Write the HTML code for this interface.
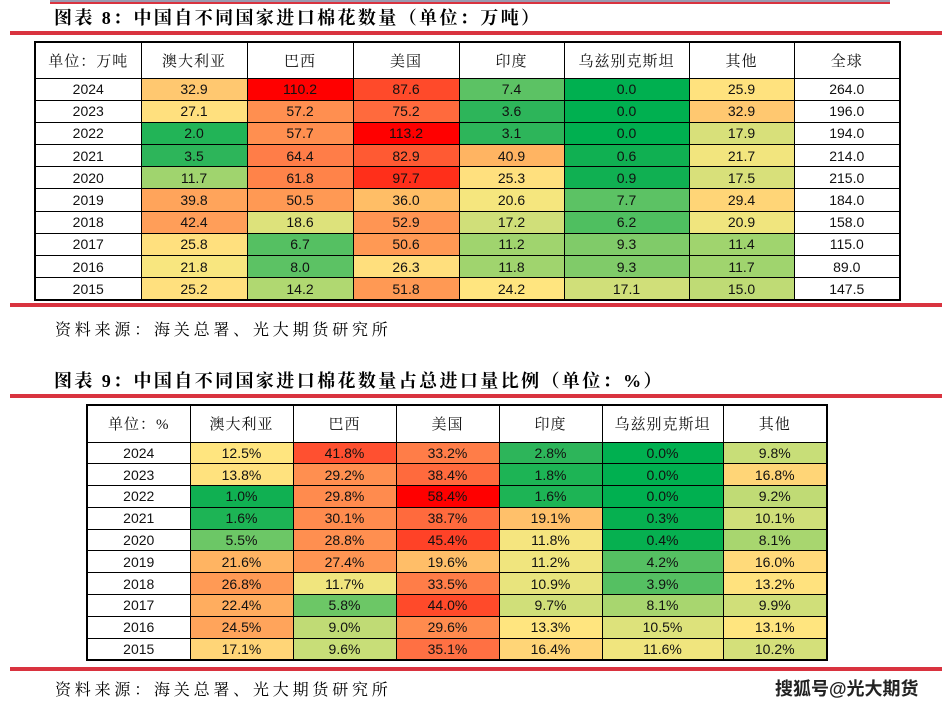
<!DOCTYPE html>
<html><head><meta charset="utf-8"><style>
body{margin:0;width:944px;height:705px;background:#fff;position:relative;overflow:hidden;font-family:"Liberation Sans","Noto Sans CJK SC",sans-serif;}
.abs{position:absolute;}
.title{font-family:"Liberation Serif","Noto Serif CJK SC",serif;font-weight:bold;font-size:18px;color:#000;letter-spacing:2.4px;white-space:nowrap;}
.src{font-family:"Liberation Serif","Noto Serif CJK SC",serif;font-size:16px;color:#000;letter-spacing:3.8px;white-space:nowrap;}
.red{height:4px;background:#D9333F;}
table{border-collapse:collapse;table-layout:fixed;position:absolute;border:2px solid #000;}
td{border:1px solid #000;text-align:center;font-size:14px;padding:0;color:#111;white-space:nowrap;}
tr.h td{font-family:"Liberation Serif","Noto Serif CJK SC",serif;font-size:15px;letter-spacing:1px;background:#fff;}
#t1 tr.h{height:36px}#t1 tr{height:22.2px}
#t2 tr.h{height:37px}#t2 tr{height:21.8px}
</style></head><body>
<div class="abs" style="left:50px;top:0;width:840px;height:2px;background:#9A9AB0"></div>
<div class="abs" style="left:50px;top:2px;width:840px;height:2px;background:#D9333F"></div>
<div class="abs title" style="left:54px;top:4px">图表 8：中国自不同国家进口棉花数量（单位：万吨）</div>
<div class="abs red" style="left:10px;top:31px;width:932px"></div>
<table id="t1" style="left:34px;top:41px;width:865px">
<colgroup><col style="width:106px"><col style="width:106px"><col style="width:106px"><col style="width:106px"><col style="width:105px"><col style="width:125px"><col style="width:105px"><col style="width:106px"></colgroup>
<tr class="h"><td>单位：万吨</td><td>澳大利亚</td><td>巴西</td><td>美国</td><td>印度</td><td>乌兹别克斯坦</td><td>其他</td><td>全球</td></tr>
<tr><td>2024</td><td style="background:#FFC870">32.9</td><td style="background:#FF0000">110.2</td><td style="background:#FF4A2A">87.6</td><td style="background:#5CC264">7.4</td><td style="background:#00B050">0.0</td><td style="background:#FFE27E">25.9</td><td>264.0</td></tr>
<tr><td>2023</td><td style="background:#FFE07E">27.1</td><td style="background:#FF8F50">57.2</td><td style="background:#FF6A3D">75.2</td><td style="background:#2DB55A">3.6</td><td style="background:#00B050">0.0</td><td style="background:#FFC870">32.9</td><td>196.0</td></tr>
<tr><td>2022</td><td style="background:#22B457">2.0</td><td style="background:#FF8F50">57.7</td><td style="background:#FF0000">113.2</td><td style="background:#2DB55A">3.1</td><td style="background:#00B050">0.0</td><td style="background:#D8E07A">17.9</td><td>194.0</td></tr>
<tr><td>2021</td><td style="background:#2DB55A">3.5</td><td style="background:#FF7D48">64.4</td><td style="background:#FF5A33">82.9</td><td style="background:#FFB462">40.9</td><td style="background:#10B052">0.6</td><td style="background:#F2E57E">21.7</td><td>214.0</td></tr>
<tr><td>2020</td><td style="background:#A0D46E">11.7</td><td style="background:#FF8349">61.8</td><td style="background:#FF2F1A">97.7</td><td style="background:#FFE07E">25.3</td><td style="background:#10B052">0.9</td><td style="background:#D8E07A">17.5</td><td>215.0</td></tr>
<tr><td>2019</td><td style="background:#FFA45B">39.8</td><td style="background:#FF9954">50.5</td><td style="background:#FFBE66">36.0</td><td style="background:#F5E67E">20.6</td><td style="background:#5CC264">7.7</td><td style="background:#FFD577">29.4</td><td>184.0</td></tr>
<tr><td>2018</td><td style="background:#FF9E59">42.4</td><td style="background:#DDE27B">18.6</td><td style="background:#FF9553">52.9</td><td style="background:#D0DF79">17.2</td><td style="background:#4FBF60">6.2</td><td style="background:#F0E57E">20.9</td><td>158.0</td></tr>
<tr><td>2017</td><td style="background:#FFE07E">25.8</td><td style="background:#55C062">6.7</td><td style="background:#FF9954">50.6</td><td style="background:#A0D46E">11.2</td><td style="background:#80CB69">9.3</td><td style="background:#A0D46E">11.4</td><td>115.0</td></tr>
<tr><td>2016</td><td style="background:#F8E67F">21.8</td><td style="background:#5CC264">8.0</td><td style="background:#FFDF7D">26.3</td><td style="background:#A0D46E">11.8</td><td style="background:#80CB69">9.3</td><td style="background:#A0D46E">11.7</td><td>89.0</td></tr>
<tr><td>2015</td><td style="background:#FFE07E">25.2</td><td style="background:#B0D871">14.2</td><td style="background:#FF9954">51.8</td><td style="background:#FFE57F">24.2</td><td style="background:#D0DF79">17.1</td><td style="background:#BFDB75">15.0</td><td>147.5</td></tr>
</table>
<div class="abs red" style="left:10px;top:303px;width:932px"></div>
<div class="abs src" style="left:55px;top:317px">资料来源：海关总署、光大期货研究所</div>
<div class="abs title" style="left:54px;top:367px">图表 9：中国自不同国家进口棉花数量占总进口量比例（单位：%）</div>
<div class="abs red" style="left:10px;top:394px;width:932px"></div>
<table id="t2" style="left:86px;top:404px;width:741px">
<colgroup><col style="width:103px"><col style="width:103px"><col style="width:103px"><col style="width:103px"><col style="width:103px"><col style="width:121px"><col style="width:104px"></colgroup>
<tr class="h"><td>单位：%</td><td>澳大利亚</td><td>巴西</td><td>美国</td><td>印度</td><td>乌兹别克斯坦</td><td>其他</td></tr>
<tr><td>2024</td><td style="background:#FFE57F">12.5%</td><td style="background:#FF5030">41.8%</td><td style="background:#FF7D48">33.2%</td><td style="background:#2DB55A">2.8%</td><td style="background:#00B050">0.0%</td><td style="background:#C8DE78">9.8%</td></tr>
<tr><td>2023</td><td style="background:#FFE27E">13.8%</td><td style="background:#FF8F50">29.2%</td><td style="background:#FF6A3D">38.4%</td><td style="background:#1DB455">1.8%</td><td style="background:#00B050">0.0%</td><td style="background:#FFD577">16.8%</td></tr>
<tr><td>2022</td><td style="background:#10B052">1.0%</td><td style="background:#FF8B4E">29.8%</td><td style="background:#FF0000">58.4%</td><td style="background:#1DB455">1.6%</td><td style="background:#00B050">0.0%</td><td style="background:#C0DB75">9.2%</td></tr>
<tr><td>2021</td><td style="background:#1DB455">1.6%</td><td style="background:#FF8B4E">30.1%</td><td style="background:#FF6A3D">38.7%</td><td style="background:#FFC06A">19.1%</td><td style="background:#06B050">0.3%</td><td style="background:#D0DF79">10.1%</td></tr>
<tr><td>2020</td><td style="background:#6CC766">5.5%</td><td style="background:#FF8F50">28.8%</td><td style="background:#FF4227">45.4%</td><td style="background:#F5E57F">11.8%</td><td style="background:#06B050">0.4%</td><td style="background:#A8D66F">8.1%</td></tr>
<tr><td>2019</td><td style="background:#FFB462">21.6%</td><td style="background:#FF9553">27.4%</td><td style="background:#FFBE68">19.6%</td><td style="background:#F0E57E">11.2%</td><td style="background:#55C062">4.2%</td><td style="background:#FFDA7A">16.0%</td></tr>
<tr><td>2018</td><td style="background:#FF9A55">26.8%</td><td style="background:#F0E57E">11.7%</td><td style="background:#FF7D48">33.5%</td><td style="background:#E8E47D">10.9%</td><td style="background:#55C062">3.9%</td><td style="background:#FFE27E">13.2%</td></tr>
<tr><td>2017</td><td style="background:#FFAD5F">22.4%</td><td style="background:#6CC766">5.8%</td><td style="background:#FF4A2A">44.0%</td><td style="background:#D0DF79">9.7%</td><td style="background:#A8D66F">8.1%</td><td style="background:#D0DF79">9.9%</td></tr>
<tr><td>2016</td><td style="background:#FFA45B">24.5%</td><td style="background:#C0DB75">9.0%</td><td style="background:#FF8B4E">29.6%</td><td style="background:#FFE57F">13.3%</td><td style="background:#DDE27B">10.5%</td><td style="background:#FFE57F">13.1%</td></tr>
<tr><td>2015</td><td style="background:#FFD577">17.1%</td><td style="background:#C8DE78">9.6%</td><td style="background:#FF7043">35.1%</td><td style="background:#FFD577">16.4%</td><td style="background:#F0E57E">11.6%</td><td style="background:#D4E07A">10.2%</td></tr>
</table>
<div class="abs red" style="left:10px;top:667px;width:932px"></div>
<div class="abs src" style="left:55px;top:677px">资料来源：海关总署、光大期货研究所</div>
<div class="abs" style="left:775px;top:675px;font-size:18px;font-weight:bold;color:#222;font-family:'Liberation Sans','Noto Sans CJK SC',sans-serif;white-space:nowrap;text-shadow:0 0 2px #fff">搜狐号@光大期货</div>
</body></html>
